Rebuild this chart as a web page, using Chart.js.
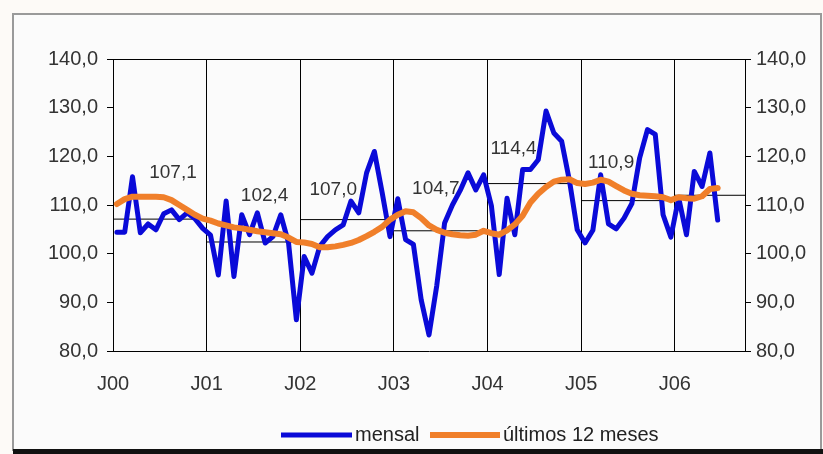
<!DOCTYPE html>
<html><head><meta charset="utf-8">
<script src="https://cdn.jsdelivr.net/npm/chart.js@4/dist/chart.umd.min.js"></script>
<style>
html,body{margin:0;padding:0;background:#fdfaf7;}
#wrap{position:absolute;left:0;top:0;width:823px;height:454px;}
</style></head><body>
<div id="wrap"><canvas id="c" width="823" height="454"></canvas></div>
<script>
// ---- data ----
const tickLabels = ["J00","J01","J02","J03","J04","J05","J06"];
const seriesNames = ["mensal","últimos 12 meses"];
const yTicks = [80,90,100,110,120,130,140];
const nCategories = 81; // Jan 2000 .. Sep 2006
const mensal = [
  104.4,104.4,115.8,104.3,106.1,104.9,108.2,109.0,107.0,108.4,107.2,105.2,
  103.8,95.6,110.8,95.3,108.0,103.9,108.4,102.2,103.5,108.0,102.2,86.4,
  99.4,96.0,101.5,103.5,104.9,105.9,110.8,108.4,116.6,121.0,112.5,103.5,
  111.3,102.9,101.9,90.5,83.3,93.5,106.3,110.0,113.0,116.6,113.1,116.2,
  109.8,95.7,111.4,103.9,117.3,117.3,119.3,129.3,124.8,123.1,115.0,104.9,
  102.2,104.8,116.2,106.1,105.1,107.3,110.3,119.7,125.5,124.5,108.0,103.4,
  111.5,103.9,116.9,113.8,120.7,106.9
];
const ultimos12 = [
  110.2,111.2,111.7,111.7,111.7,111.7,111.6,111.0,110.0,109.0,108.0,107.2,
  106.8,106.2,105.8,105.4,105.2,104.9,104.6,104.4,104.2,104.0,103.3,102.4,
  102.3,102.0,101.3,101.3,101.5,101.8,102.2,102.8,103.6,104.5,105.5,107.0,
  108.0,108.7,108.5,107.3,105.8,104.9,104.3,104.0,103.8,103.7,103.9,104.7,
  104.2,103.9,104.8,106.0,107.8,110.5,112.3,113.7,114.8,115.2,115.3,114.5,
  114.3,114.6,115.2,114.8,113.9,113.0,112.3,112.0,111.9,111.8,111.6,111.0,
  111.6,111.4,111.3,111.8,113.3,113.5
];
const annualAvg = [107.1,102.4,107.0,104.7,114.4,110.9,112.0];
const annualText = ["107,1","102,4","107,0","104,7","114,4","110,9",""];

// ---- styles ----
const BLUE = '#0a0ad8';
const ORANGE = '#f07f2a';
const FONT = 'Liberation Sans, Arial, sans-serif';
const labelOffsets = [[60,46],[58,46],[33,30],[42,42],[26,35],[30,38],[0,0]];

const toPts = arr => arr.map((v,i)=>({x:i,y:v}));
const avgSets = annualAvg.map((v,k)=>({
  data:[{x:12*k-0.5,y:v},{x:Math.min(12*k+11.5,nCategories-0.5),y:v}],
  borderColor:'#000', borderWidth:1, pointRadius:0, order:3, tension:0
}));

const fmt = v => v.toFixed(1).replace('.',',');

const framePlugin = {
  id:'frame',
  beforeDraw(chart){
    const ctx = chart.ctx;
    ctx.save();
    ctx.fillStyle = '#fdfaf7';
    ctx.fillRect(0,0,823,454);
    ctx.fillStyle = '#fbfbfb';
    ctx.fillRect(13,14,808,436);
    ctx.strokeStyle = '#9a9a9a';
    ctx.lineWidth = 2;
    ctx.strokeRect(13,14,808,436);
    ctx.fillStyle = '#111';
    ctx.fillRect(13,449,810,5);
    ctx.restore();
  },
  afterDatasetsDraw(chart){
    const ctx = chart.ctx, a = chart.chartArea;
    const xs = chart.scales.x, ys = chart.scales.y;
    ctx.save();
    ctx.strokeStyle = '#000'; ctx.lineWidth = 1;
    ctx.beginPath(); ctx.moveTo(a.left, Math.round(a.top)+0.5); ctx.lineTo(a.right, Math.round(a.top)+0.5); ctx.stroke();
    ctx.font = '19px ' + FONT;
    ctx.fillStyle = '#333';
    ctx.textAlign = 'center'; ctx.textBaseline = 'middle';
    annualText.forEach((t,k)=>{
      if(!t) return;
      const x = xs.getPixelForValue(12*k-0.5) + labelOffsets[k][0];
      const y = ys.getPixelForValue(annualAvg[k]) - labelOffsets[k][1];
      ctx.fillText(t,x,y);
    });
    // legend
    const ly = 435;
    ctx.font = '20px ' + FONT;
    const items = [[BLUE,5,281,352,seriesNames[0],355],[ORANGE,6,430,500,seriesNames[1],503]];
    ctx.textAlign = 'left';
    items.forEach(it=>{
      ctx.strokeStyle = it[0]; ctx.lineWidth = it[1];
      ctx.beginPath(); ctx.moveTo(it[2],ly); ctx.lineTo(it[3],ly); ctx.stroke();
      ctx.fillStyle = '#222';
      ctx.fillText(it[4], it[5], ly);
    });
    ctx.restore();
  }
};

const yAxis = (pos)=>({
  type:'linear', position:pos, min:80, max:140,
  afterBuildTicks: ax => { ax.ticks = yTicks.map(v=>({value:v})); },
  afterFit: ax => { ax.width = pos==='left' ? 113 : 78; },
  ticks:{ callback: v => fmt(v), color:'#333', font:{family:FONT, size:20}, padding: pos==='left'?9:5 },
  grid:{ drawOnChartArea:false, tickLength:6, color:'#000', lineWidth:1 },
  border:{ color:'#000', width:1 }
});

new Chart(document.getElementById('c'), {
  type:'line',
  data:{ datasets:[
    { label:seriesNames[0], data:toPts(mensal), borderColor:BLUE, borderWidth:5, pointRadius:0, order:2, tension:0, borderJoinStyle:'round', borderCapStyle:'round' },
    { label:seriesNames[1], data:toPts(ultimos12), borderColor:ORANGE, borderWidth:6, pointRadius:0, order:1, tension:0, borderJoinStyle:'round', borderCapStyle:'round' },
    ...avgSets
  ]},
  options:{
    responsive:false, animation:false, devicePixelRatio:1,
    layout:{ padding:{ top:59, left:0, right:0, bottom:0 } },
    plugins:{ legend:{display:false}, tooltip:{enabled:false} },
    scales:{
      x:{ type:'linear', min:-0.5, max:nCategories-0.5,
          afterBuildTicks: ax => { ax.ticks = tickLabels.map((t,k)=>({value:12*k-0.5})); },
          afterFit: ax => { ax.height = 103; },
          ticks:{ autoSkip:false, maxRotation:0, color:'#333', font:{family:FONT,size:20}, padding:21,
                  callback:(v,i)=>tickLabels[i] },
          grid:{ color:'#000', lineWidth:1, tickLength:0 },
          border:{ color:'#000', width:1 } },
      y: yAxis('left'),
      y2: yAxis('right')
    }
  },
  plugins:[framePlugin]
});
</script>
</body></html>
